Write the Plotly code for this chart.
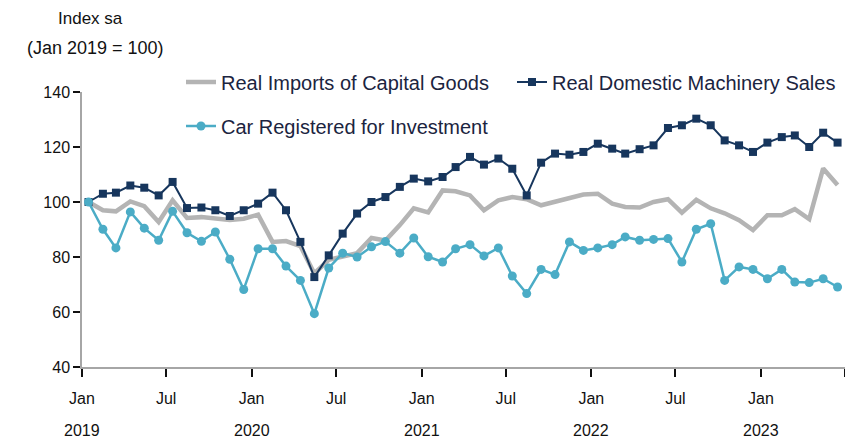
import pandas as pd
import plotly.graph_objects as go

# ---- data (monthly, Jan 2019 - Jun 2023, Index sa, Jan 2019 = 100) ----
months = pd.date_range("2019-01-01", periods=54, freq="MS") + pd.Timedelta(days=14)

imports_capital_goods = [
    100, 97, 96.6, 100.2, 98.5, 92.7, 100.6, 94.2, 94.5, 94.2, 93.5, 93.9,
    95.4, 85.5, 85.8, 84, 74, 79, 80.1, 81.4, 86.9, 86, 91.6, 97.7,
    96.2, 104.2, 103.9, 102.4, 97, 100.6, 101.8, 101, 98.8, 100, 101.2, 102.7,
    103, 99.4, 98.2, 98, 100, 101, 96.1, 100.8, 97.7, 95.9, 93.4, 89.8,
    95.2, 95.2, 97.4, 93.8, 112.2, 106.2,
]
machinery_sales = [
    100, 103.0, 103.4, 106, 105.2, 102.4, 107.3, 97.8, 98.0, 97, 94.9, 97,
    99.4, 103.4, 97, 85.5, 72.7, 80.6, 88.5, 95.8, 100, 101.8, 105.5, 108.5,
    107.5, 109.1, 112.7, 116.4, 113.6, 115.8, 112.1, 102.4, 114.3, 117.6, 117.2, 118.2,
    121.2, 119.4, 117.6, 119.2, 120.6, 126.9, 127.9, 130.3, 127.9, 122.4, 120.6, 118.2,
    121.6, 123.6, 124.2, 120, 125.2, 121.6,
]
car_registered = [
    100, 90.1, 83.3, 96.4, 90.5, 86.1, 96.6, 88.8, 85.7, 89.1, 79.2, 68.2,
    83, 83, 76.7, 71.5, 59.4, 76, 81.4, 80, 83.7, 85.6, 81.4, 86.9,
    80.1, 78.2, 83, 84.5, 80.4, 83.3, 73.1, 66.7, 75.5, 73.6, 85.5, 82.4,
    83.3, 84.5, 87.3, 86.1, 86.4, 86.7, 78.2, 90.1, 92.1, 71.5, 76.4, 75.5,
    72.1, 75.5, 70.9, 70.7, 72.1, 69.1,
]

tick_dates = ["2019-01-01", "2019-07-01", "2020-01-01", "2020-07-01", "2021-01-01",
              "2021-07-01", "2022-01-01", "2022-07-01", "2023-01-01", "2023-07-01"]
tick_text = ["Jan", "Jul", "Jan", "Jul", "Jan", "Jul", "Jan", "Jul", "Jan", ""]
year_dates = ["2019-01-01", "2020-01-01", "2021-01-01", "2022-01-01", "2023-01-01"]
year_text = ["2019", "2020", "2021", "2022", "2023"]

NAVY = "#17365d"
CYAN = "#4bacc6"
GREY = "#b4b4b4"
TEXT = "#1b2440"
FONT = "Liberation Sans"

# plot-area geometry in pixels (used to place the paper-referenced texts)
L, R, T, B = 82, 0, 92, 74
PW, PH = 845 - L - R, 441 - T - B

fig = go.Figure()
fig.add_trace(go.Scatter(
    x=months, y=imports_capital_goods, name="Real Imports of Capital Goods",
    mode="lines", line=dict(color=GREY, width=4.5), legend="legend"))
fig.add_trace(go.Scatter(
    x=months, y=machinery_sales, name="Real Domestic Machinery Sales",
    mode="lines+markers", line=dict(color=NAVY, width=2),
    marker=dict(symbol="square", size=8, color=NAVY), legend="legend"))
fig.add_trace(go.Scatter(
    x=months, y=car_registered, name="Car Registered for Investment",
    mode="lines+markers", line=dict(color=CYAN, width=2.5),
    marker=dict(symbol="circle", size=9, color=CYAN), legend="legend2"))

for d, t in zip(year_dates, year_text):
    fig.add_annotation(x=d, y=-(430 - (T + PH)) / PH, xref="x", yref="paper", text=t,
                       showarrow=False, yanchor="middle",
                       font=dict(family=FONT, size=16, color="#111"))

fig.add_annotation(x=(90 - L) / PW, y=1 + (T - 18) / PH, xref="paper", yref="paper",
                   text="Index sa", showarrow=False, xanchor="center", yanchor="middle",
                   font=dict(family=FONT, size=17, color="#111"))
fig.add_annotation(x=(95 - L) / PW, y=1 + (T - 48) / PH, xref="paper", yref="paper",
                   text="(Jan 2019 = 100)", showarrow=False, xanchor="center", yanchor="middle",
                   font=dict(family=FONT, size=18, color="#111"))

fig.update_layout(
    width=845, height=441,
    margin=dict(l=L, r=R, t=T, b=B, autoexpand=False),
    paper_bgcolor="white", plot_bgcolor="white",
    font=dict(family=FONT, size=15, color="#111"),
    showlegend=True,
    legend=dict(orientation="h", x=(181 - L) / PW, y=1 + (T - 82) / PH,
                xanchor="left", yanchor="middle",
                bgcolor="rgba(0,0,0,0)", font=dict(family=FONT, size=20, color=TEXT),
                entrywidth=286, entrywidthmode="pixels"),
    legend2=dict(orientation="h", x=(181 - L) / PW, y=(T + PH - 126) / PH,
                 xanchor="left", yanchor="middle",
                 bgcolor="rgba(0,0,0,0)", font=dict(family=FONT, size=20, color=TEXT)),
    xaxis=dict(type="date", range=["2019-01-01", "2023-07-01"],
               tickmode="array", tickvals=tick_dates, ticktext=tick_text,
               ticks="outside", ticklen=8, tickcolor="#111", tickwidth=1.5,
               showline=True, linecolor="#a6a6a6", linewidth=1.5,
               showgrid=False, zeroline=False, ticklabelstandoff=8,
               tickfont=dict(family=FONT, size=16, color="#111")),
    yaxis=dict(range=[40, 140], tickmode="array", tickvals=[40, 60, 80, 100, 120, 140],
               ticks="outside", ticklen=7, tickcolor="#111", tickwidth=1.5,
               showline=True, linecolor="#a6a6a6", linewidth=1.5,
               showgrid=False, zeroline=False,
               tickfont=dict(family=FONT, size=16, color="#111")),
)

fig.write_html("out.html", config={"displayModeBar": False},
               post_script="document.body.style.margin='0';document.body.style.padding='0';")
